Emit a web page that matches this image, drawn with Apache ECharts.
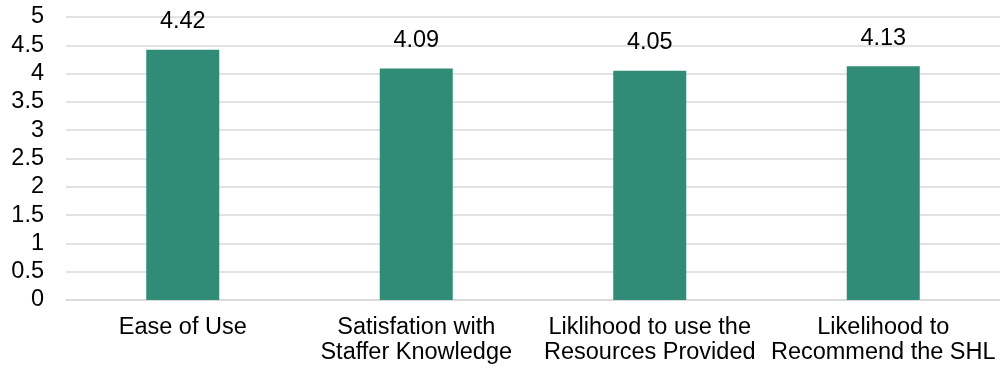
<!DOCTYPE html>
<html>
<head>
<meta charset="utf-8">
<script src="https://cdn.jsdelivr.net/npm/echarts@6/dist/echarts.min.js"></script>
<style>html,body{margin:0;padding:0;background:#fff;}#c{width:1000px;height:369px;}</style>
</head>
<body>
<div id="c"></div>
<script>
const categories = ["Ease of Use", "Satisfation with\nStaffer Knowledge", "Liklihood to use the\nResources Provided", "Likelihood to\nRecommend the SHL"];
const values = [4.42, 4.09, 4.05, 4.13];
const yTicks = [0, 0.5, 1, 1.5, 2, 2.5, 3, 3.5, 4, 4.5, 5];

const FONT = 'Liberation Sans, Arial, sans-serif';
const chart = echarts.init(document.getElementById('c'), null, {renderer: 'canvas'});
chart.setOption({
  animation: false,
  grid: {left: 66, right: 0, top: 17, bottom: 69, containLabel: false},
  xAxis: {
    type: 'category',
    data: categories,
    axisLine: {show: true, lineStyle: {color: '#d9d9d9', width: 1.5}},
    axisTick: {show: false},
    axisLabel: {color: '#000', fontFamily: FONT, fontSize: 23.5, lineHeight: 25, margin: 15, interval: 0}
  },
  yAxis: {
    type: 'value',
    min: 0, max: 5, interval: 0.5,
    axisLine: {show: false},
    axisTick: {show: false},
    splitLine: {lineStyle: {color: '#d9d9d9', width: 1.5}},
    axisLabel: {color: '#000', fontFamily: FONT, fontSize: 23.5, margin: 22,
      formatter: v => yTicks.includes(v) ? String(v) : ''}
  },
  series: [{
    type: 'bar',
    data: values,
    barWidth: 73,
    itemStyle: {color: '#308c77'},
    label: {show: true, position: 'top', distance: 16, color: '#000', fontFamily: FONT, fontSize: 23.5,
      formatter: p => p.value.toFixed(2)}
  }]
});
</script>
</body>
</html>
